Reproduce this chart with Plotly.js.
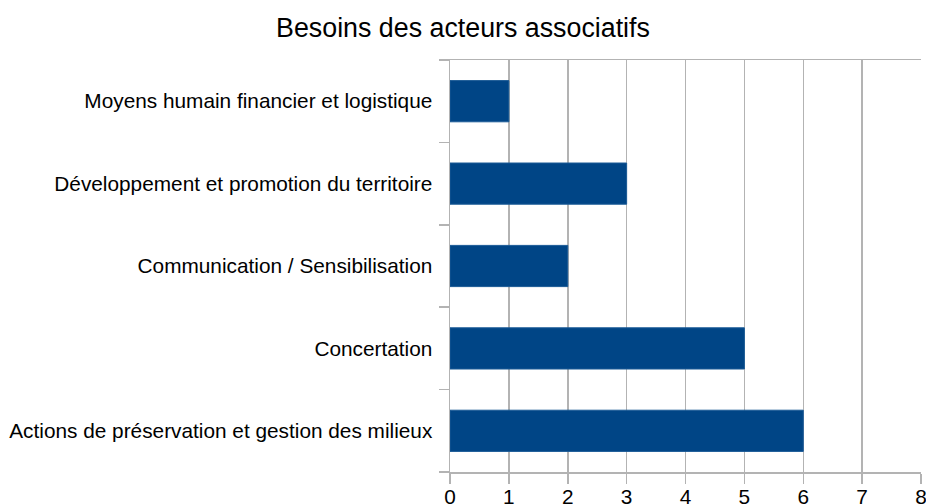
<!DOCTYPE html>
<html>
<head>
<meta charset="utf-8">
<script src="https://cdn.plot.ly/plotly-3.0.1.min.js"></script>
<style>html,body{margin:0;padding:0;background:#fff;}#chart{width:926px;height:504px;}</style>
</head>
<body>
<div id="chart"></div>
<script>
var categories = [
  "Actions de préservation et gestion des milieux",
  "Concertation",
  "Communication / Sensibilisation",
  "Développement et promotion du territoire",
  "Moyens humain financier et logistique"
];
var values = [6, 5, 2, 3, 1];
var xTicks = [0, 1, 2, 3, 4, 5, 6, 7, 8];
var titleText = "Besoins des acteurs associatifs";

var grid = "#b3b3b3";
var trace = {
  type: "bar",
  orientation: "h",
  y: categories,
  x: values,
  width: 0.5,
  marker: {color: "#004586", line: {color: "#1a5a96", width: 1}},
  hoverinfo: "x+y"
};
var layout = {
  width: 926, height: 504,
  margin: {l: 450, r: 5, t: 60, b: 32, pad: 0},
  paper_bgcolor: "#fff", plot_bgcolor: "#fff",
  font: {family: "Liberation Sans, Arial, sans-serif", color: "#000", size: 20.8},
  title: {text: titleText, font: {size: 26.8, color: "#000"}, x: 0.5, xanchor: "center", y: 0.945, yanchor: "middle"},
  showlegend: false,
  bargap: 0.5,
  xaxis: {
    range: [0, 8], tickvals: xTicks, ticktext: xTicks.map(String),
    showgrid: true, gridcolor: grid, gridwidth: 1.5,
    zeroline: false, showline: true, linecolor: grid, linewidth: 1.5, mirror: true,
    ticks: "outside", ticklen: 10, tickcolor: grid, tickwidth: 1.5,
    ticklabelstandoff: -4, ticklabeloverflow: "allow",
    tickfont: {size: 20.8}, fixedrange: true
  },
  yaxis: {
    type: "category", categoryorder: "array", categoryarray: categories,
    tickson: "boundaries", showgrid: false, zeroline: false,
    showline: true, linecolor: grid, linewidth: 1.5,
    ticks: "outside", ticklen: 10, tickcolor: grid, tickwidth: 1.5,
    ticklabelstandoff: 12,
    tickfont: {size: 20.8}, fixedrange: true
  }
};
Plotly.newPlot("chart", [trace], layout, {displayModeBar: false, staticPlot: true});
</script>
</body>
</html>
